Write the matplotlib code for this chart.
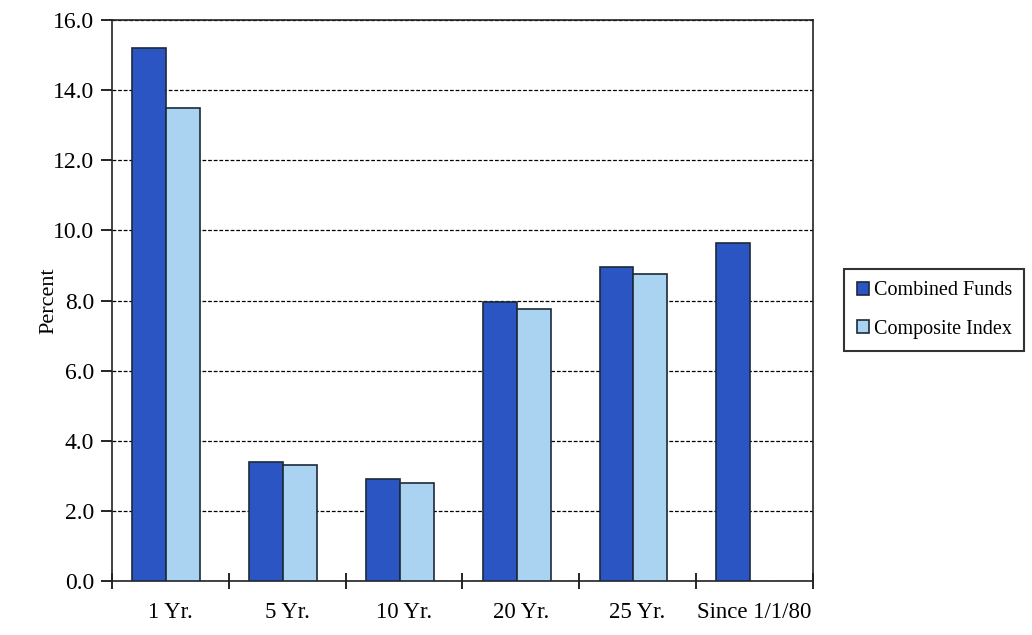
import matplotlib.pyplot as plt
import numpy as np

# Chart data
categories = ["1 Yr.", "5 Yr.", "10 Yr.", "20 Yr.", "25 Yr.", "Since 1/1/80"]
combined_funds = [15.2, 3.4, 2.9, 7.95, 8.95, 9.65]
composite_index = [13.5, 3.3, 2.8, 7.75, 8.75, np.nan]
yticks = np.arange(0, 16.1, 2.0)

plt.rcParams['font.family'] = ['Liberation Serif', 'DejaVu Serif']

fig = plt.figure(figsize=(10.32, 6.35), dpi=100)
ax = fig.add_axes([0.1085, 0.085, 0.679, 0.8835])

x = np.arange(len(categories))
w = 0.29
off = -0.035
ax.bar(x + off - w / 2, combined_funds, w, color='#2b55c2', edgecolor='#1b2a3a',
       linewidth=1.2, label='Combined Funds', zorder=3)
ax.bar(x + off + w / 2, composite_index, w, color='#a9d3f0', edgecolor='#1b2a3a',
       linewidth=1.2, label='Composite Index', zorder=3)

ax.set_xlim(-0.5, len(categories) - 0.5)
ax.set_ylim(0, 16)
ax.set_yticks(yticks)
ax.set_yticklabels([f"{v:.1f}" for v in yticks], fontsize=17)
ax.yaxis.grid(True, linestyle=(0, (3, 1.5)), color='black', linewidth=0.9, zorder=0)

# category labels at centres, tick marks at boundaries
ax.set_xticks(x)
ax.set_xticklabels(categories, fontsize=16.5)
ax.tick_params(axis='x', which='major', length=0, pad=15)
ax.set_xticks(np.arange(-0.5, len(categories), 1.0), minor=True)
ax.tick_params(axis='x', which='minor', direction='inout', length=12, width=1.2)
ax.tick_params(axis='y', direction='out', length=8, width=1.2, pad=5)

for s in ax.spines.values():
    s.set_linewidth(1.2)
    s.set_color('#222222')

ax.set_ylabel("Percent", fontsize=16)
ax.yaxis.set_label_coords(-0.077, 0.5)

leg = ax.legend(loc='center left', bbox_to_anchor=(1.031, 0.483), fontsize=14.5,
                frameon=True, fancybox=False, edgecolor='black', handlelength=0.6,
                handleheight=0.6, handletextpad=0.25, borderpad=0.6, labelspacing=0.95)
leg.get_frame().set_linewidth(1.5)

fig.savefig("out.png", dpi=100)
